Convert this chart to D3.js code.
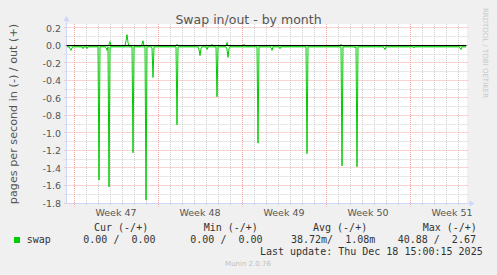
<!DOCTYPE html>
<html lang="en">
<head>
<meta charset="UTF-8">
<title>Swap in/out - by month</title>
<script src="https://d3js.org/d3.v7.min.js"></script>
<style>
    body { margin: 0; background: #f0f0f0; }
    text { font-family: "DejaVu Sans", sans-serif; }
    .mono { font-family: "DejaVu Sans Mono", monospace; white-space: pre; fill: #333; font-size: 10px; }
</style>
</head>
<body>
<svg width="497" height="275"></svg>
<script>
// one sample every 2 hours, starting 2025-11-15 10:00 UTC
const sampleStart = Date.UTC(2025, 10, 15, 10);
const sampleStepHours = 2;

// swap in (drawn negative), pages per second
const swapIn = [
    -0.01,-0.01,-0.01,-0.03,-0.05,-0.02,-0.01,-0.01,-0.01,-0.01,-0.01,-0.01,-0.01,-0.01,-0.01,-0.01,-0.03,-0.01,-0.01,-0.01,
    -0.03,-0.01,-0.01,-0.01,-0.01,-0.01,-0.01,-0.01,-0.01,-0.01,-0.01,-0.01,-1.53,-0.01,-0.01,-0.01,-0.01,-0.01,-0.01,-0.02,
    -0.05,-0.01,-1.61,-0.01,-0.01,-0.01,-0.01,-0.01,-0.01,-0.01,-0.01,-0.01,-0.01,-0.01,-0.01,-0.01,-0.01,-0.01,-0.01,-0.01,
    -0.01,-0.01,-0.01,-0.01,-0.01,-0.01,-1.22,-0.01,-0.01,-0.01,-0.01,-0.01,-0.01,-0.01,-0.01,-0.01,-0.01,-0.01,-0.01,-1.76,
    -0.01,-0.01,-0.01,-0.01,-0.01,-0.02,-0.36,-0.01,-0.01,-0.01,-0.01,-0.01,-0.01,-0.01,-0.01,-0.01,-0.01,-0.01,-0.01,-0.01,
    -0.01,-0.01,-0.01,-0.01,-0.01,-0.01,-0.01,-0.01,-0.01,-0.01,-0.90,-0.01,-0.01,-0.01,-0.01,-0.01,-0.01,-0.01,-0.01,-0.01,
    -0.01,-0.01,-0.01,-0.01,-0.01,-0.01,-0.01,-0.01,-0.01,-0.01,-0.01,-0.01,-0.04,-0.11,-0.03,-0.01,-0.01,-0.01,-0.01,-0.01,
    -0.04,-0.01,-0.01,-0.01,-0.01,-0.01,-0.01,-0.01,-0.01,-0.01,-0.58,-0.01,-0.01,-0.01,-0.01,-0.01,-0.01,-0.01,-0.01,-0.01,
    -0.04,-0.13,-0.03,-0.01,-0.01,-0.01,-0.01,-0.01,-0.01,-0.01,-0.01,-0.01,-0.01,-0.01,-0.01,-0.01,-0.01,-0.01,-0.01,-0.01,
    -0.01,-0.01,-0.01,-0.01,-0.01,-0.01,-0.01,-0.01,-0.01,-0.01,-0.01,-1.11,-0.01,-0.01,-0.01,-0.01,-0.01,-0.01,-0.01,-0.01,
    -0.01,-0.01,-0.01,-0.01,-0.02,-0.05,-0.01,-0.01,-0.01,-0.01,-0.01,-0.01,-0.01,-0.03,-0.01,-0.01,-0.01,-0.01,-0.01,-0.01,
    -0.01,-0.01,-0.01,-0.01,-0.01,-0.01,-0.01,-0.01,-0.01,-0.01,-0.01,-0.01,-0.01,-0.01,-0.01,-0.01,-0.01,-0.01,-0.01,-0.01,
    -1.23,-0.01,-0.01,-0.01,-0.01,-0.01,-0.01,-0.01,-0.01,-0.01,-0.01,-0.01,-0.01,-0.01,-0.01,-0.01,-0.01,-0.01,-0.01,-0.01,
    -0.01,-0.01,-0.01,-0.01,-0.01,-0.01,-0.01,-0.01,-0.01,-0.01,-0.01,-0.01,-0.01,-0.01,-0.01,-1.37,-0.01,-0.01,-0.01,-0.01,
    -0.01,-0.01,-0.01,-0.01,-0.01,-0.01,-0.01,-0.01,-0.02,-0.01,-1.38,-0.01,-0.01,-0.01,-0.01,-0.01,-0.01,-0.01,-0.01,-0.01,
    -0.01,-0.01,-0.01,-0.01,-0.01,-0.01,-0.01,-0.01,-0.01,-0.01,-0.01,-0.01,-0.01,-0.01,-0.01,-0.01,-0.01,-0.02,-0.04,-0.01,
    -0.01,-0.01,-0.01,-0.01,-0.01,-0.01,-0.01,-0.01,-0.01,-0.01,-0.01,-0.01,-0.01,-0.01,-0.01,-0.01,-0.01,-0.01,-0.01,-0.01,
    -0.01,-0.01,-0.01,-0.01,-0.01,-0.01,-0.01,-0.02,-0.01,-0.01,-0.01,-0.01,-0.01,-0.01,-0.01,-0.01,-0.01,-0.01,-0.01,-0.01,
    -0.01,-0.01,-0.01,-0.01,-0.01,-0.01,-0.01,-0.01,-0.01,-0.01,-0.01,-0.01,-0.01,-0.01,-0.01,-0.01,-0.01,-0.01,-0.01,-0.01,
    -0.01,-0.01,-0.01,-0.01,-0.01,-0.01,-0.01,-0.01,-0.01,-0.01,-0.01,-0.01,-0.01,-0.02,-0.04,-0.01,-0.01,-0.01,-0.01,-0.01
];

// swap out (drawn positive)
const swapOut = [
    0,0,0,0,0,0,0,0,0,0,0,0,0,0,0,0,0,0,0,0,
    0,0,0,0,0,0,0,0,0,0,0,0,0,0,0,0,0,0,0,0,
    0,0,0.02,0.05,0,0,0,0,0,0,0,0,0,0,0,0,0,0,0,0.06,
    0.13,0.04,0,0,0,0,0,0,0,0,0,0,0,0,0,0.02,0.06,0,0,0,
    0,0,0,0,0,0,0,0,0,0,0,0,0,0,0,0,0,0,0,0,
    0,0,0,0,0,0,0,0,0,0,0.02,0,0,0,0,0,0,0,0,0,
    0,0,0,0,0,0,0,0,0,0,0,0,0,0,0,0,0,0,0,0,
    0,0,0,0,0,0.02,0,0,0,0,0,0,0,0,0,0,0,0,0,0,
    0.04,0,0,0,0,0,0,0,0,0,0,0,0,0,0,0,0,0.02,0,0,
    0,0,0,0,0,0,0,0,0,0,0,0,0,0,0,0,0,0,0,0,
    0,0,0,0,0,0,0,0,0,0,0,0,0,0,0,0,0,0,0,0,
    0,0,0,0,0,0,0,0,0,0,0,0,0,0,0,0,0,0,0,0,
    0,0,0,0,0,0,0,0,0,0,0,0,0,0,0,0,0,0,0,0,
    0,0,0,0,0,0,0,0,0,0,0,0,0,0,0.02,0,0,0,0,0,
    0,0,0,0,0,0,0,0,0,0,0,0,0,0,0,0,0,0,0,0,
    0,0,0,0,0,0,0,0,0,0,0,0,0,0,0,0,0,0,0,0,
    0,0,0,0,0,0,0,0,0,0,0,0,0,0,0,0,0,0,0,0,
    0,0,0,0,0,0,0,0,0,0,0,0,0,0,0,0,0,0,0,0,
    0,0,0,0,0,0,0,0,0,0,0,0,0,0,0,0,0,0,0,0,
    0,0,0,0,0,0,0,0,0,0,0,0,0,0,0,0,0,0,0,0
];

const legendHeads = ["Cur (-/+)", "Min (-/+)", "Avg (-/+)", "Max (-/+)"];
const legendValues = ["0.00 /  0.00", "0.00 /  0.00", "38.72m/  1.08m", "40.88 /  2.67"];
const seriesName = "swap";
const lastUpdate = "Last update: Thu Dec 18 15:00:15 2025";

const HOUR = 3600e3;
const viewStart = Date.UTC(2025, 10, 15, 9);
const viewEnd = viewStart + 800 * HOUR;

const svg = d3.select("svg");
const green = "#00cc00";
const axisColor = "#cfd6f8";

const x = d3.scaleUtc().domain([new Date(viewStart), new Date(viewEnd)]).range([66.5, 466.5]);
const y = d3.scaleLinear().domain([-1.8, 0.2514]).range([203.5, 24]);

const [x0, x1] = x.range();
const [yb, yt] = y.range();

// canvas
svg.append("rect")
    .attr("x", x0 - 0.5).attr("y", yt)
    .attr("width", x1 - x0 + 1).attr("height", yb - yt + 0.5)
    .attr("fill", "#fff");

const crisp = v => Math.round(v) - 0.5;

// minor grid
const minorY = y.ticks(20).filter(v => Math.abs(Math.round(v * 10) % 2) === 1);
svg.append("g").selectAll("line").data(minorY).join("line")
    .attr("x1", x0 - 2).attr("x2", x1 + 2)
    .attr("y1", d => crisp(y(d))).attr("y2", d => crisp(y(d)))
    .attr("stroke", "#d0d0d0").attr("stroke-dasharray", "1,1");

const days = d3.utcDay.range(x.domain()[0], x.domain()[1]).filter(d => d.getUTCDay() !== 0);
svg.append("g").selectAll("line").data(days).join("line")
    .attr("x1", d => crisp(x(d)) + 1).attr("x2", d => crisp(x(d)) + 1)
    .attr("y1", yt).attr("y2", yb + 2)
    .attr("stroke", "#d0d0d0").attr("stroke-dasharray", "1,1");

// major grid
const majorY = y.ticks(10);
svg.append("g").selectAll("line").data(majorY).join("line")
    .attr("x1", x0 - 2).attr("x2", x1 + 2)
    .attr("y1", d => crisp(y(d))).attr("y2", d => crisp(y(d)))
    .attr("stroke", "#f4a6a6").attr("stroke-dasharray", "1,1");

const weeks = d3.utcSunday.range(x.domain()[0], x.domain()[1]);
svg.append("g").selectAll("line").data(weeks).join("line")
    .attr("x1", d => crisp(x(d)) + 1).attr("x2", d => crisp(x(d)) + 1)
    .attr("y1", yt).attr("y2", yb + 3)
    .attr("stroke", "#f4a6a6").attr("stroke-dasharray", "1,1");

// axes
svg.append("line").attr("x1", x0).attr("x2", x1 + 3).attr("y1", yb).attr("y2", yb)
    .attr("stroke", axisColor);
svg.append("line").attr("x1", x0).attr("x2", x0).attr("y1", yb).attr("y2", yt - 3)
    .attr("stroke", axisColor);
svg.append("path").attr("d", `M${x1 + 3},${yb - 3}L${x1 + 8},${yb}L${x1 + 3},${yb + 3}Z`).attr("fill", axisColor);
svg.append("path").attr("d", `M${x0 - 3},${yt - 3}L${x0},${yt - 8}L${x0 + 3},${yt - 3}Z`).attr("fill", axisColor);

// tick labels
const fmt = d3.format(".1f");
svg.append("g").selectAll("text").data(majorY).join("text")
    .attr("x", 61).attr("y", d => y(d) + 3.5)
    .attr("text-anchor", "end").attr("font-size", 9.5).attr("fill", "#555")
    .text(d => fmt(d).replace("−", "-"));

const weekLabel = d3.utcFormat("Week %V");
svg.append("g").selectAll("text").data(weeks).join("text")
    .attr("x", d => x(new Date(+d + 84 * HOUR)))
    .attr("y", 216)
    .attr("text-anchor", "middle").attr("font-size", 9.5).attr("fill", "#555")
    .text(d => weekLabel(new Date(+d + 84 * HOUR)));

// data
const times = swapIn.map((_, i) => new Date(sampleStart + i * sampleStepHours * HOUR));
const line = d3.line().x((d, i) => x(times[i])).y(d => y(d));

svg.append("path").datum(swapIn).attr("d", line)
    .attr("fill", "none").attr("stroke", green).attr("stroke-width", 1);
svg.append("path").datum(swapOut).attr("d", line)
    .attr("fill", "none").attr("stroke", green).attr("stroke-width", 1);

// zero line
svg.append("line").attr("x1", x0).attr("x2", x1)
    .attr("y1", crisp(y(0))).attr("y2", crisp(y(0)))
    .attr("stroke", "#000").attr("stroke-width", 1);

// titles
svg.append("text").attr("x", 248.5).attr("y", 24)
    .attr("text-anchor", "middle").attr("font-size", 12.5).attr("fill", "#555")
    .text("Swap in/out - by month");

svg.append("text").attr("transform", "translate(16.5,114) rotate(-90)")
    .attr("text-anchor", "middle").attr("font-size", 11.2).attr("fill", "#555")
    .text("pages per second in (-) / out (+)");

svg.append("text").attr("transform", "translate(483,53) rotate(90)")
    .attr("text-anchor", "middle").attr("font-size", 7).attr("fill", "#c8c8c8")
    .text("RRDTOOL / TOBI OETIKER");

// legend
const headX = [94, 203.7, 313, 422.7];
const valX = [83.3, 190.3, 291, 397.7];
svg.append("g").selectAll("text").data(legendHeads).join("text")
    .attr("class", "mono").attr("x", (d, i) => headX[i]).attr("y", 230.7).text(d => d);
svg.append("g").selectAll("text").data(legendValues).join("text")
    .attr("class", "mono").attr("x", (d, i) => valX[i]).attr("y", 243.3).text(d => d);

svg.append("rect").attr("x", 14).attr("y", 237).attr("width", 6).attr("height", 6).attr("fill", green);
svg.append("text").attr("class", "mono").attr("x", 26.7).attr("y", 243.3).text(seriesName);
svg.append("text").attr("class", "mono").attr("x", 482.7).attr("y", 255)
    .attr("text-anchor", "end").text(lastUpdate);

svg.append("text").attr("x", 248).attr("y", 266.3)
    .attr("text-anchor", "middle").attr("font-size", 7).attr("fill", "#c0c0c0")
    .text("Munin 2.0.76");
</script>
</body>
</html>
